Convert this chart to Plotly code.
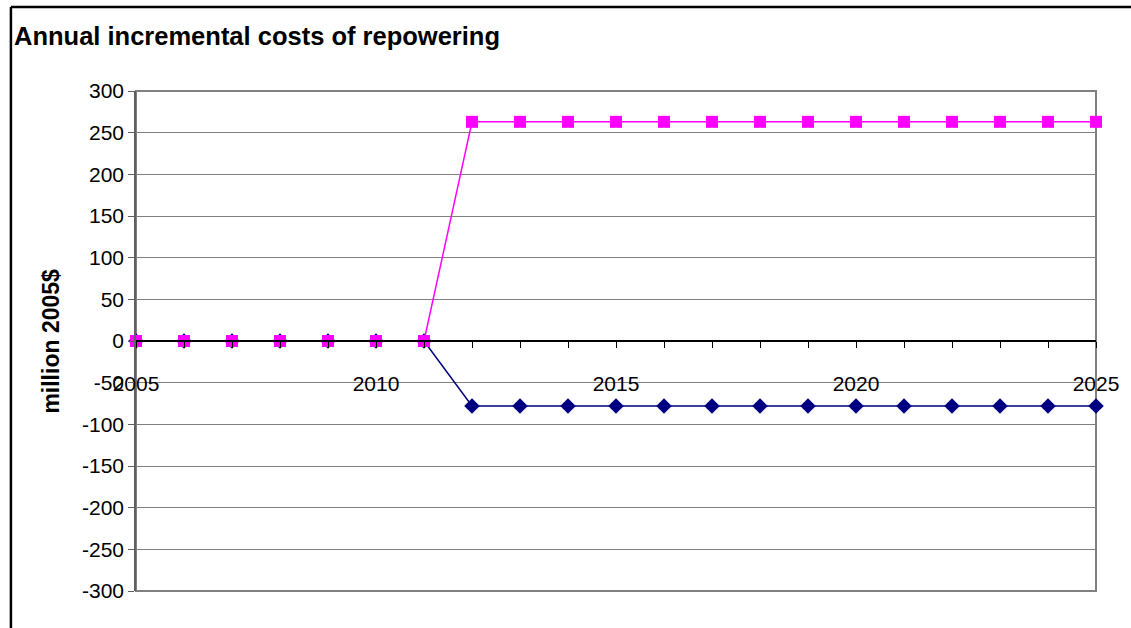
import plotly.graph_objects as go

# Annual incremental costs of repowering, million 2005$
years = list(range(2005, 2026))
series_a = [0, 0, 0, 0, 0, 0, 0] + [-78] * 14   # navy diamonds
series_b = [0, 0, 0, 0, 0, 0, 0] + [263] * 14   # magenta squares
y_ticks = list(range(-300, 301, 50))
y_labels = [str(v) for v in y_ticks]            # plain hyphen for negatives
x_labels = [str(y) if y % 5 == 0 else "" for y in years]

FONT = "Liberation Sans, Arial, sans-serif"
PLOT_W = 1131 - 136 - 28

fig = go.Figure()
fig.add_trace(go.Scatter(
    x=years, y=series_a, mode="lines+markers",
    line=dict(color="#000080", width=1.5),
    marker=dict(symbol="diamond", size=12, color="#000080"),
    cliponaxis=False, showlegend=False,
))
fig.add_trace(go.Scatter(
    x=years, y=series_b, mode="lines+markers",
    line=dict(color="#FF00FF", width=1.5),
    marker=dict(symbol="square", size=12, color="#FF00FF"),
    cliponaxis=False, showlegend=False,
))

fig.update_layout(
    width=1131, height=628,
    margin=dict(l=136, r=28, t=91, b=37),
    paper_bgcolor="white", plot_bgcolor="white",
    font=dict(family=FONT, size=21, color="black"),
    xaxis=dict(
        range=[2005, 2025], tickvals=years, ticktext=x_labels,
        anchor="free", position=0.5,
        showline=True, linecolor="black", linewidth=1.5,
        ticks="outside", ticklen=6, tickcolor="black", tickwidth=1,
        ticklabelstandoff=18, tickfont=dict(size=21),
        showgrid=False, zeroline=False,
    ),
    yaxis=dict(
        range=[-300, 300], tickvals=y_ticks, ticktext=y_labels,
        tickfont=dict(size=21),
        showline=True, linecolor="#606060", linewidth=1.5,
        ticks="outside", ticklen=6, tickcolor="#606060",
        showgrid=True, gridcolor="#808080", gridwidth=1.2,
        zeroline=False,
    ),
    shapes=[
        # plot area border
        dict(type="rect", xref="paper", yref="paper", x0=0, x1=1, y0=0, y1=1,
             line=dict(color="#808080", width=2), layer="below"),
        # outer chart frame
        dict(type="line", xref="paper", yref="paper",
             x0=-126 / PLOT_W, x1=1.2, y0=1 + 84 / 500, y1=1 + 84 / 500,
             line=dict(color="black", width=2.5)),
        dict(type="line", xref="paper", yref="paper",
             x0=-126 / PLOT_W, x1=-126 / PLOT_W, y0=1 + 84 / 500, y1=-0.2,
             line=dict(color="black", width=2.5)),
    ],
    annotations=[
        dict(text="<b>Annual incremental costs of repowering</b>",
             xref="paper", yref="paper", x=-125 / PLOT_W, y=1 + 55 / 500,
             xanchor="left", yanchor="middle", showarrow=False,
             font=dict(family=FONT, size=25.5, color="black")),
        dict(text="<b>million 2005$</b>",
             xref="paper", yref="paper", x=-86 / PLOT_W, y=0.5,
             xanchor="center", yanchor="middle", textangle=-90, showarrow=False,
             font=dict(family=FONT, size=23, color="black")),
    ],
)

fig.write_html("out.html")
